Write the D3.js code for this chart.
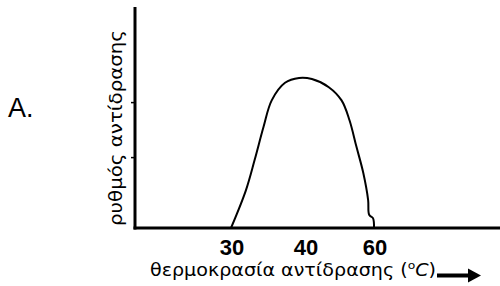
<!DOCTYPE html>
<html>
<head>
<meta charset="utf-8">
<script src="https://cdn.jsdelivr.net/npm/d3@7"></script>
<style>
    body { margin: 0; background: #fff; }
    svg { display: block; }
</style>
</head>
<body>
<svg id="chart" width="500" height="286"></svg>
<script>
// Temperature ticks shown under the axis
let tempTicks = [30, 40, 60];
// Unlabelled ticks on the rate axis
let rateTicks = [32, 57];
// Curve: temperature (°C) and reaction rate (arbitrary units)
let temps = [30, 32, 33.2, 34.4, 35.5, 37.3, 39.2, 42, 46.9, 50.6, 52.9, 54.9, 56.9, 58.3, 58.6, 59.7, 60];
let rates = [0, 17, 31, 46, 58, 66, 68.2, 67.7, 64, 58, 49, 37, 25, 12.7, 6, 4.5, 0];

let svg = d3.select("#chart");

let axisY = 228;
let axisX = 135;

// Labels are not evenly spaced in the original, so use a piecewise scale
let scale = {
    x: d3.scaleLinear().domain([30, 40, 60]).range([231, 305, 374]),
    y: d3.scaleLinear().domain([0, 100]).range([axisY, 8])
};

let points = temps.map((t, i) => ({temp: t, rate: rates[i]}));

// Axes drawn as thick plain lines like the scanned figure
svg.append("line")
    .attr("x1", axisX).attr("x2", axisX)
    .attr("y1", 7).attr("y2", axisY + 1.5)
    .attr("stroke", "#000").attr("stroke-width", 3);

svg.append("line")
    .attr("x1", axisX - 1.5).attr("x2", 500)
    .attr("y1", axisY).attr("y2", axisY)
    .attr("stroke", "#000").attr("stroke-width", 3);

svg.selectAll(".ytick")
    .data(rateTicks)
    .enter()
    .append("line")
    .attr("class", "ytick")
    .attr("x1", axisX - 4).attr("x2", axisX)
    .attr("y1", d => scale.y(d)).attr("y2", d => scale.y(d))
    .attr("stroke", "#000").attr("stroke-width", 1.5);

svg.selectAll(".xlabel")
    .data(tempTicks)
    .enter()
    .append("text")
    .attr("class", "xlabel")
    .attr("x", d => scale.x(d) + 1)
    .attr("y", 255)
    .attr("text-anchor", "middle")
    .style("font-family", "Liberation Sans, Arial, sans-serif")
    .style("font-weight", "bold")
    .style("font-size", "22px")
    .text(d => d);

let line = d3.line()
    .x(d => scale.x(d.temp))
    .y(d => scale.y(d.rate))
    .curve(d3.curveCatmullRom);

svg.append("path")
    .datum(points)
    .attr("d", line)
    .attr("fill", "none")
    .attr("stroke", "#000")
    .attr("stroke-width", 2);

// Axis titles - the original font is wide, so stretch to the measured span
let xTitle = svg.append("text")
    .attr("x", 150)
    .attr("y", 276)
    .attr("textLength", 286)
    .attr("lengthAdjust", "spacingAndGlyphs")
    .style("font-family", "DejaVu Sans, sans-serif")
    .style("font-size", "17px");
xTitle.append("tspan").text("θερμοκρασία αντίδρασης (");
xTitle.append("tspan").attr("dy", -7).style("font-size", "11px").text("o");
xTitle.append("tspan").attr("dy", 7).style("font-style", "italic").text("C");
xTitle.append("tspan").text(")");

svg.append("text")
    .attr("transform", "translate(122, 226) rotate(-90)")
    .attr("textLength", 196)
    .attr("lengthAdjust", "spacingAndGlyphs")
    .style("font-family", "DejaVu Sans, sans-serif")
    .style("font-size", "17px")
    .text("ρυθμός αντίδρασης");

// Arrow after the x title
svg.append("line")
    .attr("x1", 437).attr("x2", 470)
    .attr("y1", 275.5).attr("y2", 275.5)
    .attr("stroke", "#000").attr("stroke-width", 4);
svg.append("path")
    .attr("d", "M468,268.5L481,275.5L468,282.5Z")
    .attr("fill", "#000");

svg.append("text")
    .attr("x", 8)
    .attr("y", 117)
    .style("font-family", "Liberation Sans, Arial, sans-serif")
    .style("font-size", "27px")
    .text("A.");
</script>
</body>
</html>
